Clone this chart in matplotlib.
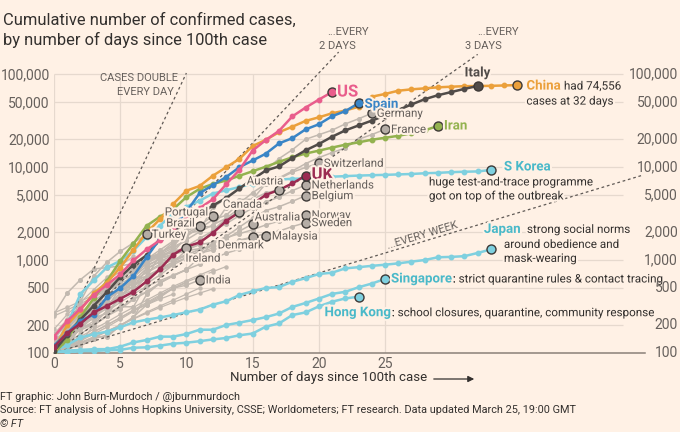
import matplotlib
matplotlib.use('Agg')
import matplotlib.pyplot as plt
import numpy as np
from matplotlib import patheffects as pe
from matplotlib.transforms import blended_transform_factory

plt.rcParams['font.family'] = ['Roboto', 'DejaVu Sans']

# ---------------- data (cumulative cases, day 0 = first day ~100 cases) ----------------
us = [150, 220, 300, 420, 540, 700, 990, 1300, 1630, 2180, 2770, 3610, 4500, 6500,
      9300, 15000, 19500, 24500, 35000, 43500, 53000, 64000]
spain = [120, 165, 222, 259, 400, 500, 673, 1073, 1695, 2277, 3300, 5232, 6391, 7798,
         9942, 11748, 13910, 17963, 20410, 25374, 28768, 35136, 39885, 48400]
italy = [105, 155, 229, 322, 453, 655, 888, 1128, 1694, 2036, 2502, 3089, 3858, 4636,
         5883, 7375, 9172, 10149, 12462, 15113, 17660, 21157, 24747, 27980, 31506,
         35713, 41035, 47021, 53578, 59138, 63927, 69176, 74386]
china = [110, 200, 290, 440, 571, 830, 1287, 1975, 2744, 4000, 5560, 6250, 8060, 9930,
         12200, 16800, 19600, 23700, 27100, 31300, 34200, 37800, 40500, 44400, 57000,
         61000, 66100, 68400, 70100, 71900, 73000, 74000, 74300, 74600, 75300, 76000]
iran = [100, 139, 245, 388, 593, 978, 1501, 2336, 2922, 3513, 4747, 5823, 6566, 7161,
        8042, 9000, 10075, 11364, 12729, 13938, 14991, 16169, 17361, 18407, 19644,
        20610, 21638, 23049, 24811, 27600]
uk = [116, 164, 207, 273, 321, 383, 456, 590, 798, 1140, 1391, 1543, 1950, 2626, 3269,
      3983, 5018, 5683, 6650, 8077]
s_korea = [104, 204, 433, 602, 833, 977, 1261, 1766, 2337, 3150, 3736, 4335, 5186, 5621,
           6088, 6593, 7041, 7314, 7478, 7513, 7755, 7869, 7979, 8086, 8162, 8236, 8320,
           8413, 8565, 8652, 8799, 8897, 8961, 9290]
japan = [105, 122, 147, 159, 170, 189, 214, 228, 241, 256, 274, 293, 331, 360, 420, 461,
         500, 511, 584, 637, 707, 730, 813, 837, 865, 890, 920, 960, 1000, 1070, 1080,
         1100, 1190, 1300]
singapore = [102, 106, 108, 110, 110, 117, 130, 138, 150, 150, 160, 178, 178, 200, 212,
             226, 243, 266, 313, 345, 385, 432, 455, 509, 558, 625]
hong_kong = [100, 100, 105, 105, 107, 108, 114, 115, 120, 126, 129, 134, 140, 145, 155,
             162, 192, 208, 256, 273, 317, 356, 386, 403]

germany = [130, 159, 196, 262, 482, 670, 799, 1040, 1176, 1457, 1908, 2078, 3675, 4585,
           5795, 7272, 9257, 12327, 15320, 19848, 22213, 24873, 29056, 32986, 37800]
france = [100, 130, 191, 204, 285, 377, 653, 949, 1126, 1209, 1784, 2281, 2281, 3661,
          4469, 4499, 6633, 7652, 9043, 10871, 12612, 14282, 16018, 19856, 22304, 25400]
switzerland = [114, 214, 268, 337, 374, 491, 652, 652, 1139, 1359, 2200, 2200, 2700,
               3028, 4075, 5294, 6575, 7474, 8795, 9877, 10960]
netherlands = [128, 188, 265, 321, 382, 503, 503, 804, 959, 1135, 1413, 1705, 2051,
               2460, 2994, 3631, 4204, 4749, 5560, 6400]
belgium = [109, 169, 200, 239, 267, 314, 314, 559, 689, 886, 1058, 1243, 1486, 1795,
           2257, 2815, 3401, 3743, 4269, 4920]
austria = [104, 131, 182, 246, 302, 504, 655, 860, 1018, 1332, 1646, 2013, 2388, 2814,
           3582, 4474, 5283, 5660]
norway = [113, 147, 176, 205, 400, 598, 702, 996, 1090, 1221, 1333, 1463, 1550, 1746,
          1914, 2118, 2385, 2621, 2863, 3050]
sweden = [137, 161, 203, 248, 355, 500, 599, 814, 961, 1022, 1103, 1190, 1279, 1439,
          1639, 1763, 1934, 2046, 2286, 2520]
australia = [107, 128, 128, 200, 250, 297, 377, 452, 568, 681, 791, 1071, 1549, 1682,
             2044, 2440]
malaysia = [99, 117, 129, 149, 149, 197, 238, 428, 566, 673, 790, 900, 1030, 1183, 1306,
            1518, 1810]
denmark = [262, 442, 615, 801, 827, 864, 914, 977, 1057, 1151, 1255, 1326, 1395, 1460,
           1591, 1770]
canada = [108, 117, 193, 198, 252, 415, 478, 657, 800, 943, 1277, 1469, 2088, 2790, 3260]
portugal = [112, 169, 245, 331, 448, 448, 785, 1020, 1280, 1600, 2060, 2362, 2970]
brazil = [151, 151, 200, 234, 346, 529, 640, 970, 1178, 1546, 1924, 2320]
turkey = [100, 191, 359, 670, 947, 1236, 1529, 1890]
ireland = [129, 169, 223, 292, 557, 683, 785, 906, 1125, 1250, 1340]
india = [102, 113, 119, 142, 156, 194, 244, 330, 396, 499, 536, 610]

other_a = [160, 230, 310, 420, 560, 700, 850, 1000, 1150]
other_b = [120, 150, 190, 250, 320, 410, 520, 640, 780, 900]
other_c = [110, 140, 180, 220, 280, 350, 430, 520, 600, 690, 780]
other_d = [130, 180, 260, 380, 520, 640, 760, 880, 1020, 1150, 1300]
other_e = [105, 125, 150, 180, 215, 260, 310, 370, 440, 520, 600, 690, 790]
other_f = [140, 210, 300, 420, 600, 750, 900]
other_g = [100, 115, 135, 160, 190, 230, 280, 340, 410, 490, 570]
other_h = [250, 290, 340, 400, 470, 560, 660]
other_i = [120, 170, 240, 330, 450, 600, 780, 1000, 1200, 1400, 1600]
other_j = [100, 120, 140, 170, 200, 240, 290, 350, 420, 500, 580, 660, 750, 850]
other_k = [150, 200, 270, 360, 470, 600]
other_l = [110, 130, 160, 200, 250, 310, 380, 460, 550]
other_m = [125, 160, 210, 280, 370, 480, 600, 730, 870, 1000, 1150, 1300, 1450]
other_n = [100, 110, 125, 145, 170, 200, 235, 275, 320, 370, 430, 500]
other_o = [180, 260, 350, 480, 650, 860, 1100]
other_p = [115, 150, 200, 260, 330, 420, 530, 660, 800, 960, 1120, 1300]
other_q = [100, 118, 140, 168, 200, 240, 285, 330, 380, 430]
other_r = [135, 175, 230, 300, 380, 470, 570, 680, 800, 930, 1060, 1200, 1350, 1500]
other_s = [270, 310, 360, 420, 480, 540]
other_t = [105, 140, 190, 250, 330, 440, 580, 750, 900, 1050]
other_u = [100, 112, 128, 148, 172, 200, 232, 268, 308, 350, 395, 440, 490]
other_v = [160, 200, 250, 310, 380, 460, 550, 650, 760, 880]

y_ticks = [100, 200, 500, 1000, 2000, 5000, 10000, 20000, 50000, 100000]
y_tick_labels = ['100', '200', '500', '1,000', '2,000', '5,000', '10,000', '20,000',
                 '50,000', '100,000']
x_ticks = [0, 5, 10, 15, 20, 25]
doubling_days = [1, 2, 3, 7]
doubling_ends = [10, 21.5, 32, 44.5]

# ---------------- style ----------------
BG = '#fff1e5'
GRID = '#e6d9ce'
AXIS = '#8a8078'
TXT = '#66605c'
DARK = '#33302e'
GREY_LINE = '#c2b9b0'
GREY_FILL = '#b5ada6'
EDGE = '#3d3936'
C_US = '#e95d8c'
C_UK = '#9b2c52'
C_SPAIN = '#3a85c6'
C_CHINA = '#eba03b'
C_IRAN = '#93b24f'
C_ITALY = '#514c49'
C_CYAN = '#7fd0df'
C_CYAN_T = '#4ab9c9'
NOTE = 8.4     # size of normal annotation text
GLAB = 8.3     # size of grey country labels
BLAB = 9.6     # size of bold country labels

W, H = 680, 432
fig = plt.figure(figsize=(W / 100, H / 100), dpi=100)
fig.patch.set_facecolor(BG)
ax = fig.add_axes([54 / W, (H - 353) / H, (644.5 - 54) / W, (353 - 40) / H])
ax.set_facecolor(BG)
ax.set_yscale('log')
ax.set_xlim(0, 44.6)
ax.set_ylim(100, 10 ** (2 + 313 / 93))
for s in ['top', 'right', 'left']:
    ax.spines[s].set_visible(False)
ax.spines['bottom'].set_color(AXIS)
ax.spines['bottom'].set_linewidth(1.1)
ax.set_yticks(y_ticks)
ax.set_yticklabels(y_tick_labels)
ax.yaxis.set_minor_locator(matplotlib.ticker.NullLocator())
ax.set_xticks(x_ticks)
ax.tick_params(axis='both', length=0, labelsize=10, colors=TXT)
ax.tick_params(axis='y', pad=3)
ax.tick_params(axis='x', pad=3)

ax.hlines(y_ticks[1:], 0, 43, color=GRID, lw=0.9, zorder=0)
ax.vlines(x_ticks, 100, 100000, color=GRID, lw=0.9, zorder=0)

tr = blended_transform_factory(fig.transFigure, ax.transData)
for v, lab in zip(y_ticks, y_tick_labels):
    fig.text(678 / W, v, lab, transform=tr, ha='right', va='center', fontsize=10,
             color=TXT)

halo = [pe.withStroke(linewidth=3, foreground=BG)]

# grey background countries
others = [other_a, other_b, other_c, other_d, other_e, other_f, other_g, other_h,
          other_i, other_j, other_k, other_l, other_m, other_n, other_o, other_p,
          other_q, other_r, other_s, other_t, other_u, other_v]
for vals in others:
    ax.plot(np.arange(len(vals)), vals, color=GREY_LINE, lw=0.9, marker='o', ms=2.2,
            zorder=1)

grey_named = [germany, france, switzerland, netherlands, belgium, austria, norway,
              sweden, australia, malaysia, denmark, canada, portugal, brazil, turkey,
              ireland, india]
for vals in grey_named:
    d = np.arange(len(vals))
    ax.plot(d, vals, color=GREY_LINE, lw=1.1, marker='o', ms=2.6, zorder=2)
    ax.plot(d[-1], vals[-1], 'o', ms=6.5, mfc=GREY_FILL, mec=EDGE, mew=1, zorder=6)

# doubling reference lines
for dd, end in zip(doubling_days, doubling_ends):
    xs = np.linspace(0, end, 100)
    ax.plot(xs, 100 * 2 ** (xs / dd), color='#5f5955', lw=0.9, ls=(0, (2.2, 2.2)),
            zorder=3)

# highlighted countries
highlight = [(japan, C_CYAN), (singapore, C_CYAN), (hong_kong, C_CYAN),
             (s_korea, C_CYAN), (iran, C_IRAN), (china, C_CHINA), (italy, C_ITALY),
             (spain, C_SPAIN), (uk, C_UK), (us, C_US)]
for i, (vals, col) in enumerate(highlight):
    d = np.arange(len(vals))
    ax.plot(d, vals, color=col, lw=1.8, marker='o', ms=3.2, zorder=4 + i * 0.01)
    ax.plot(d[-1], vals[-1], 'o', ms=6.5, mfc=col, mec=EDGE, mew=1, zorder=7)


def label(vals, text, dx, dy, color=TXT, size=GLAB, weight='normal', ha='left',
          va='center'):
    return ax.annotate(text, (len(vals) - 1, vals[-1]), xytext=(dx, -dy),
                       textcoords='offset pixels', ha=ha, va=va, fontsize=size,
                       color=color, fontweight=weight, path_effects=halo, zorder=8)


def follow(t, text, color=DARK, size=NOTE):
    return ax.annotate(text, (1, 0), xycoords=t, ha='left', va='bottom',
                       fontsize=size, color=color, path_effects=halo, zorder=8)


def below(t, text, dx, dy, color=DARK, size=NOTE):
    return ax.annotate(text, (0, 0), xycoords=t, xytext=(dx, -dy),
                       textcoords='offset pixels', ha='left', va='bottom',
                       fontsize=size, color=color, path_effects=halo, zorder=8)


label(us, 'US', 5, 0, C_US, 12, 'bold')
label(uk, 'UK', 6, -1, C_UK, 12, 'bold')
label(spain, 'Spain', 6, 1, C_SPAIN, BLAB, 'bold')
label(iran, 'Iran', 6, 0, C_IRAN, BLAB, 'bold')
label(italy, 'Italy', 0, -13, C_ITALY, BLAB, 'bold', ha='center')
t = label(china, 'China', 9, 1, C_CHINA, BLAB, 'bold')
follow(t, ' had 74,556')
below(t, 'cases at 32 days', 0, 15)
t = label(s_korea, 'S Korea', 13, -3, C_CYAN_T, BLAB, 'bold')
below(t, 'huge test-and-trace programme', -75, 15)
below(t, 'got on top of the outbreak', -75, 29)
t = label(japan, 'Japan', -7, -20, C_CYAN_T, BLAB, 'bold')
follow(t, '  strong social norms')
below(t, 'around obedience and', 20, 15)
below(t, 'mask-wearing', 20, 29)
t = label(singapore, 'Singapore', 6, 0, C_CYAN_T, BLAB, 'bold')
follow(t, ': strict quarantine rules & contact tracing')
t = label(hong_kong, 'Hong Kong', -34, 16, C_CYAN_T, BLAB, 'bold')
follow(t, ': school closures, quarantine, community response')

label(germany, 'Germany', 5, 0)
label(france, 'France', 6, 0)
label(switzerland, 'Switzerland', 5, 0)
label(netherlands, 'Netherlands', 6, 0)
label(belgium, 'Belgium', 6, 0)
label(austria, 'Austria', 4, -9, ha='right')
label(canada, 'Canada', 3, -8, ha='center')
label(portugal, 'Portugal', -5, -4, ha='right')
label(brazil, 'Brazil', -5, -3, ha='right')
label(turkey, 'Turkey', 5, 0)
label(australia, 'Australia', 2, -7)
label(norway, 'Norway', 6, 0)
label(sweden, 'Sweden', 6, 0)
label(malaysia, 'Malaysia', 6, 0)
label(denmark, 'Denmark', -35, 8)
label(ireland, 'Ireland', -1, 10)
label(india, 'India', 6, 0)


# reference line labels (figure pixel positions)
def ftxt(px, py, s, ha='left', size=8, color=TXT, **kw):
    fig.text(px / W, 1 - py / H, s, ha=ha, va='center', fontsize=size, color=color, **kw)


ftxt(178, 78, 'CASES DOUBLE', ha='right')
ftxt(174, 92, 'EVERY DAY', ha='right')
ftxt(348, 32, '...EVERY', ha='center')
ftxt(337, 46, '2 DAYS', ha='center')
ftxt(498, 32, '...EVERY', ha='center')
ftxt(483, 46, '3 DAYS', ha='center')
ftxt(422, 235, '...EVERY WEEK', ha='center', rotation=16.8, rotation_mode='anchor')

# title
fig.text(3 / W, 1 - 25 / H, 'Cumulative number of confirmed cases,', ha='left',
         va='baseline', fontsize=11.9, color=DARK)
fig.text(3 / W, 1 - 45 / H, 'by number of days since 100th case', ha='left',
         va='baseline', fontsize=11.9, color=DARK)

# x axis label + arrow
ftxt(230, 378, 'Number of days since 100th case', size=9.5, color=DARK)
fig.add_artist(matplotlib.patches.FancyArrowPatch((431 / W, 1 - 379 / H),
                                                  (477 / W, 1 - 379 / H),
                                                  transform=fig.transFigure,
                                                  arrowstyle='-|>', mutation_scale=9,
                                                  color=DARK, lw=0.9))

# footer
ftxt(0, 397, 'FT graphic: John Burn-Murdoch / @jburnmurdoch', size=7.8, color=DARK)
ftxt(0, 410, 'Source: FT analysis of Johns Hopkins University, CSSE; Worldometers; '
     'FT research. Data updated March 25, 19:00 GMT', size=7.8, color=DARK)
ftxt(0, 424, '© FT', size=7.8, color=DARK, style='italic')

fig.savefig('out.png', dpi=100, facecolor=BG)
